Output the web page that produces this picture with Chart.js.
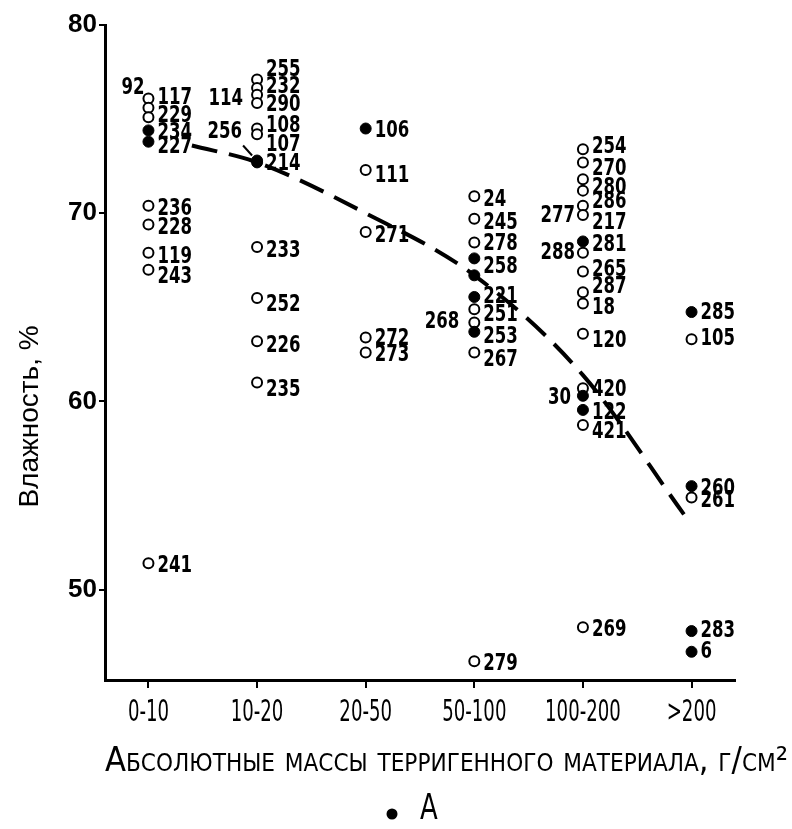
<!DOCTYPE html>
<html>
<head>
<meta charset="utf-8">
<script src="https://cdn.jsdelivr.net/npm/chart.js@4"></script>
<style>
  html, body { margin: 0; padding: 0; background: #fff; }
</style>
</head>
<body>
<canvas id="moistChart" width="792" height="829"></canvas>
<script>
const categories = ['0-10', '10-20', '20-50', '50-100', '100-200', '>200'];
const yTicks = [50, 60, 70, 80];

// open circles: category index, moisture %, sample number
const openCat = [0,0,0,0,0,0,0,0, 1,1,1,1,1,1,1,1,1,1, 2,2,2,2, 3,3,3,3,3,3,3, 4,4,4,4,4,4,4,4,4,4,4,4,4,4, 5,5];
const openVal = [76.1,75.6,75.1,70.4,69.4,67.9,67.0,51.4,
  77.1,76.65,76.3,75.85,74.5,74.2,68.2,65.5,63.2,61.0,
  72.3,69.0,63.4,62.6,
  70.9,69.7,68.45,64.9,64.2,62.6,46.2,
  73.4,72.7,71.8,71.2,70.4,69.9,67.9,66.9,65.8,65.2,63.6,60.7,58.75,48.0,
  63.3,54.9];
const openIds = ['92','117','229','236','228','119','243','241',
  '255','232','114','290','108','107','233','252','226','235',
  '111','271','272','273',
  '24','245','278','251','268','267','279',
  '254','270','280','286','277','217','288','265','287','18','120','420','421','269',
  '105','261'];

// filled circles (group A)
const filledCat = [0,0, 1,1, 2, 3,3,3,3, 4,4,4, 5,5,5,5];
const filledVal = [74.4,73.8, 72.7,72.8, 74.5, 67.6,66.7,65.55,63.7, 68.5,60.3,59.55, 64.75,55.5,47.8,46.7];
const filledIds = ['234','227', '214','256', '106', '258','','221','253', '281','30','122', '285','260','283','6'];

// dashed trend
const trendX = [0.4, 1, 2, 3, 4, 4.93];
const trendY = [73.6, 72.7, 70.0, 66.7, 61.4, 54.0];

const NARROW = "'Liberation Sans Narrow', 'DejaVu Sans Condensed', 'Liberation Sans', sans-serif";
const PLAIN = "'Liberation Sans', Arial, sans-serif";

// labels that sit left of their circle: [dx, dy]
const leftLabels = {'92': [-4, -10], '114': [-14, 4], '256': [-15, -28], '268': [-15, 0],
  '277': [-8, 10], '288': [-8, 0], '30': [-12, 2]};
// vertical nudges for right-hand labels (default +4)
const labelDy = {'117': -10, '229': -1, '234': 3, '227': 5, '236': 3, '243': 7, '241': 3,
  '255': -10, '232': -1, '290': 2, '108': -2, '107': 11, '214': 2, '252': 7, '226': 5, '235': 7,
  '106': 3, '111': 6, '272': 2, '273': 3, '278': 2, '258': 9, '221': 0, '251': 6, '253': 5,
  '267': 8, '279': 3, '254': -2, '270': 7, '280': 9, '286': 11, '217': 8, '265': -2, '287': -5,
  '120': 7, '420': 2, '122': 3, '421': 7, '269': 3, '285': 1, '105': 0, '260': 3, '283': 0, '6': 0};

const toPoints = (cats, vals) => cats.map((c, i) => ({x: c, y: vals[i]}));

// squeezed text: the printed figure uses a tall condensed face
function narrowText(ctx, txt, x, y, squeeze, align) {
  ctx.save();
  ctx.translate(x, y);
  ctx.scale(squeeze, 1);
  ctx.textAlign = align || 'left';
  ctx.fillText(txt, 0, 0);
  ctx.restore();
}

const pointLabels = {
  id: 'pointLabels',
  afterDatasetsDraw(chart) {
    const ctx = chart.ctx;
    ctx.save();
    ctx.font = 'bold 23px ' + NARROW;
    ctx.fillStyle = '#000';
    ctx.strokeStyle = '#000';
    ctx.textBaseline = 'middle';
    chart.data.datasets.forEach((ds, di) => {
      if (!ds.ids) return;
      chart.getDatasetMeta(di).data.forEach((pt, i) => {
        const id = ds.ids[i];
        if (!id) return;
        if (leftLabels[id]) {
          const [dx, dy] = leftLabels[id];
          narrowText(ctx, id, pt.x + dx, pt.y + dy, 0.8, 'right');
          if (id === '256') {
            ctx.lineWidth = 2;
            ctx.beginPath();
            ctx.moveTo(pt.x - 14, pt.y - 15);
            ctx.lineTo(pt.x - 5, pt.y - 5);
            ctx.stroke();
          }
        } else {
          const dy = labelDy[id] !== undefined ? labelDy[id] : 4;
          narrowText(ctx, id, pt.x + 9, pt.y + dy, 0.8, 'left');
        }
      });
    });
    ctx.restore();
  }
};

// category names, axis captions and the legend entry
const decorations = {
  id: 'decorations',
  afterDraw(chart) {
    const ctx = chart.ctx;
    const xs = chart.scales.x;
    const ys = chart.scales.y;
    ctx.save();
    ctx.fillStyle = '#000';
    ctx.textBaseline = 'middle';

    // x category names under the tick marks
    ctx.font = '500 31px ' + NARROW;
    categories.forEach((c, i) => {
      narrowText(ctx, c, xs.getPixelForValue(i), xs.top + 33, 0.65, 'center');
    });

    // x caption in small caps, from the axis start to the right edge
    const cap = 'Абсолютные массы терригенного материала, г/см²';
    ctx.font = 'small-caps 34px ' + NARROW;
    ctx.fontVariantCaps = 'small-caps';
    const w = ctx.measureText(cap).width;
    narrowText(ctx, cap, xs.left, xs.top + 82, (chart.width - xs.left - 4) / w, 'left');
    ctx.fontVariantCaps = 'normal';

    // y caption, rotated
    ctx.font = '28px ' + PLAIN;
    ctx.save();
    ctx.translate(30, ys.getPixelForValue(59.2));
    ctx.rotate(-Math.PI / 2);
    ctx.textAlign = 'center';
    ctx.fillText('Влажность, %', 0, 0);
    ctx.restore();

    // legend: filled circle = group A
    const dsA = chart.data.datasets[2];
    ctx.beginPath();
    ctx.arc(392, 814, 5.5, 0, Math.PI * 2);
    ctx.fill();
    ctx.font = '36px ' + NARROW;
    narrowText(ctx, dsA.label, 420, 810, 0.8, 'left');
    ctx.restore();
  }
};

new Chart(document.getElementById('moistChart'), {
  type: 'scatter',
  data: {
    datasets: [
      {
        label: 'trend',
        data: toPoints(trendX, trendY),
        showLine: true,
        borderColor: '#000',
        borderWidth: 4,
        borderDash: [26, 12],
        pointRadius: 0,
        cubicInterpolationMode: 'monotone',
        order: 3
      },
      {
        label: 'open',
        ids: openIds,
        data: toPoints(openCat, openVal),
        pointRadius: 5,
        borderWidth: 2,
        borderColor: '#000',
        backgroundColor: '#fff',
        order: 2
      },
      {
        label: 'A',
        ids: filledIds,
        data: toPoints(filledCat, filledVal),
        pointRadius: 5.5,
        borderWidth: 1,
        borderColor: '#000',
        backgroundColor: '#000',
        order: 1
      }
    ]
  },
  options: {
    responsive: false,
    animation: false,
    layout: { padding: { top: 25, right: 57, left: 0, bottom: 0 } },
    plugins: {
      tooltip: { enabled: false },
      legend: { display: false }
    },
    scales: {
      x: {
        type: 'linear',
        min: -0.4,
        max: 5.4,
        border: { display: true, width: 3, color: '#000' },
        grid: { drawOnChartArea: false, drawTicks: true, tickLength: 8, lineWidth: 2, color: '#000' },
        ticks: { display: false },
        afterBuildTicks: s => { s.ticks = categories.map((c, i) => ({value: i})); },
        afterFit: s => { s.height = 149; }
      },
      y: {
        min: 45.2,
        max: 80,
        border: { display: true, width: 3, color: '#000' },
        grid: { drawOnChartArea: false, drawTicks: true, tickLength: 6, lineWidth: 2, color: '#000' },
        ticks: {
          color: '#000',
          padding: 2,
          font: { size: 26, weight: 'bold', family: PLAIN }
        },
        afterBuildTicks: s => { s.ticks = yTicks.map(v => ({value: v})); },
        afterFit: s => { s.width = 105; }
      }
    }
  },
  plugins: [pointLabels, decorations]
});
</script>
</body>
</html>
